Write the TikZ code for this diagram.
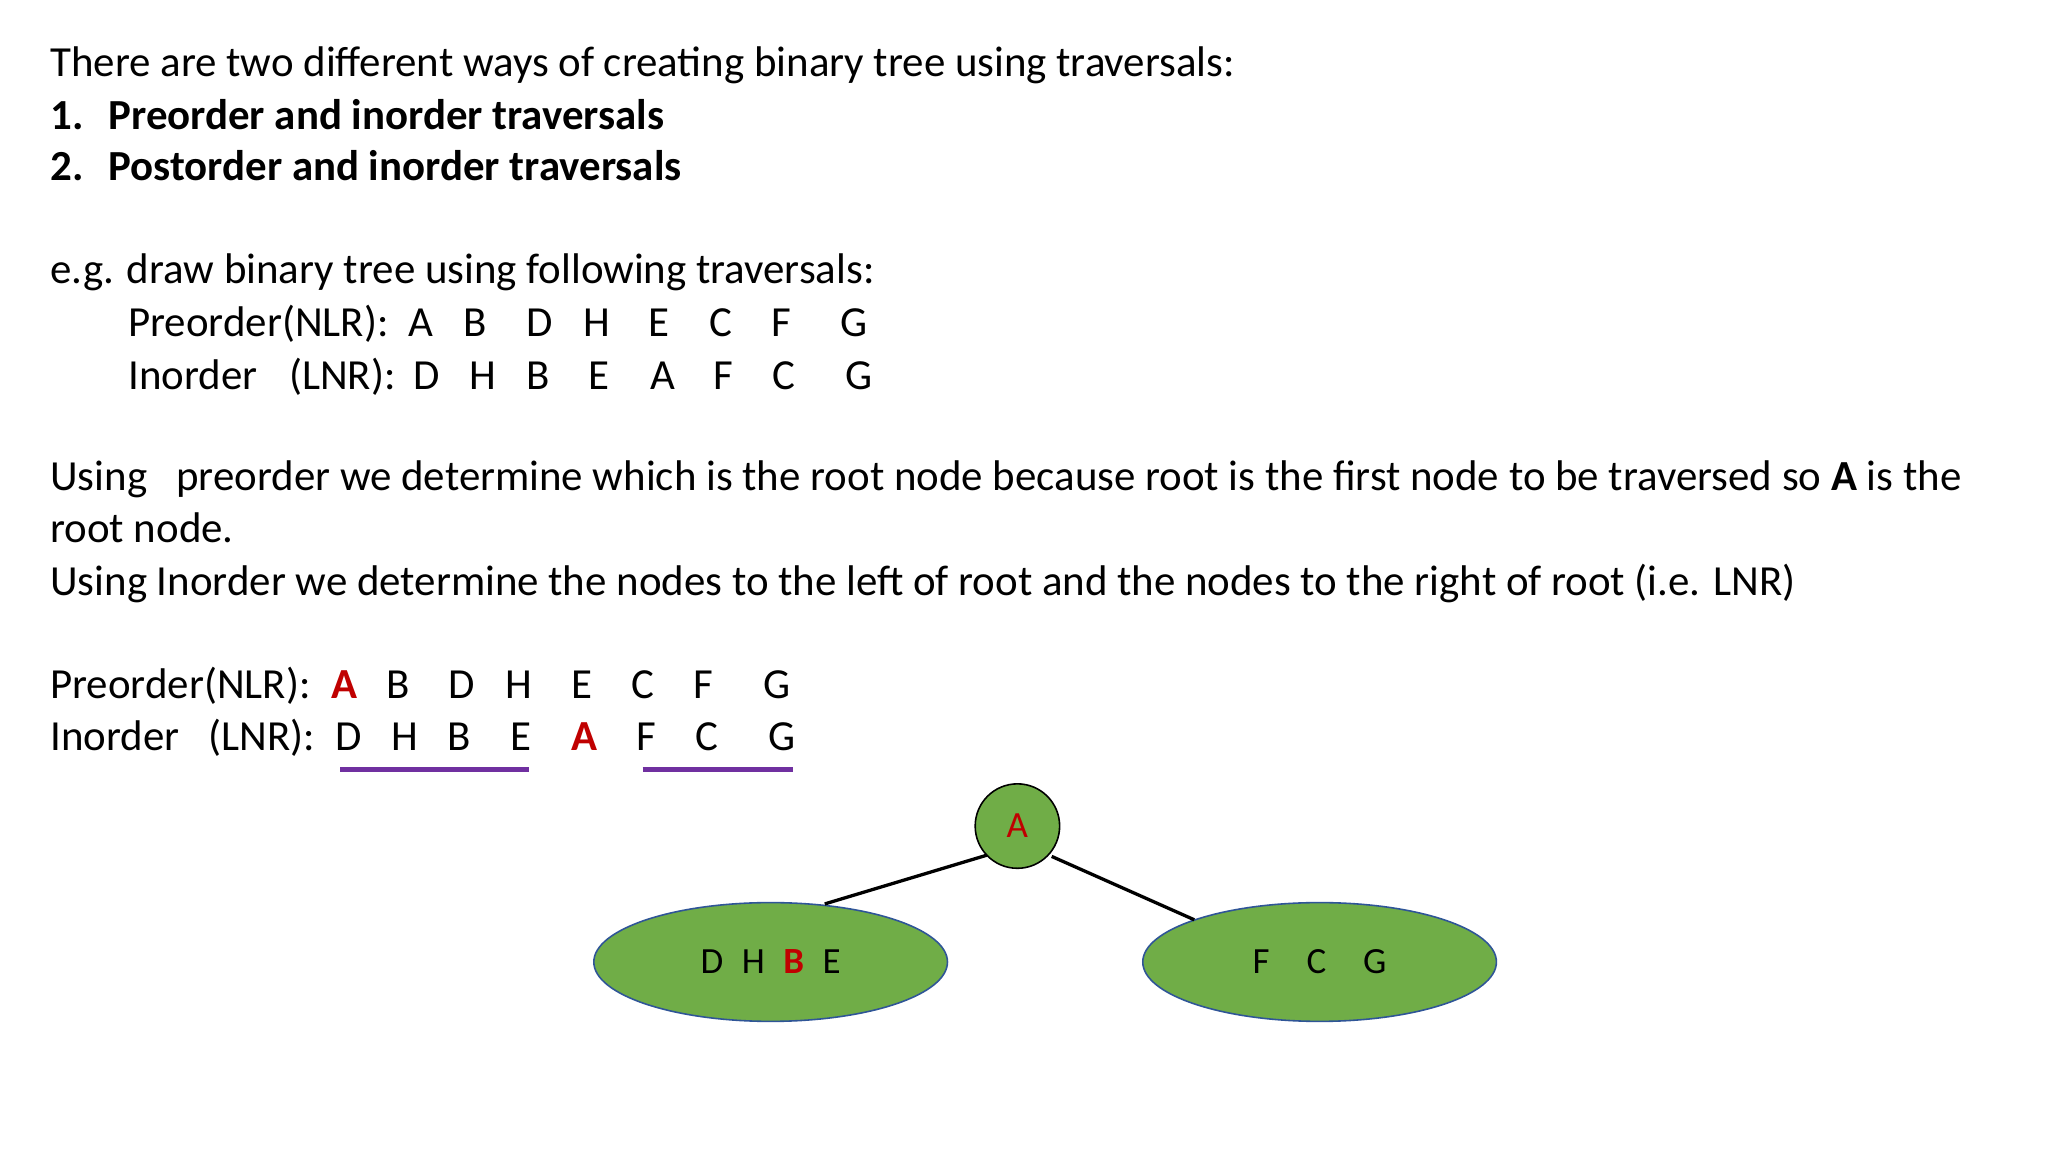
\documentclass[tikz,border=0pt]{standalone}
\usepackage{fontspec}
\setmainfont{Carlito}
\usetikzlibrary{shapes.geometric}
\definecolor{tgreen}{HTML}{70AD47}
\definecolor{tblue}{HTML}{2F5597}
\definecolor{tred}{HTML}{C00000}
\definecolor{tpurple}{HTML}{7030A0}
\begin{document}
\begin{tikzpicture}[x=1pt,y=-1pt,
  txt/.style={anchor=base west,inner sep=0pt,font=\fontsize{32.5}{38}\selectfont},
  btxt/.style={anchor=base west,inner sep=0pt,font=\fontsize{32.5}{38}\selectfont\bfseries},
  let/.style={anchor=base,inner sep=0pt,font=\fontsize{32.5}{38}\selectfont},
  redlet/.style={let,text=tred,font=\fontsize{32.5}{38}\selectfont\bfseries},
  uline/.style={tpurple,line width=3.5pt},
  edge/.style={line width=2.5pt},
  oval/.style={ellipse,draw=tblue,line width=1.2pt,fill=tgreen,minimum width=268pt,minimum height=90pt,inner sep=0pt,font=\fontsize{28}{32}\selectfont}]
\useasboundingbox[fill=white] (0,0) rectangle (1552,873);
\node[txt] (l1) at (38,58) {There are two different ways of creating binary tree using traversals:};
\node[btxt] (n1) at (38,98) {1.};
\node[btxt] (l2) at (82,98) {Preorder and inorder traversals};
\node[btxt] (n2) at (38,137) {2.};
\node[btxt] (l3) at (82,137) {Postorder and inorder traversals};
\node[txt] (l4) at (38,215) {e.g. draw binary tree using following traversals:};
\node[txt] (p1) at (97,255) {Preorder(NLR):};
\foreach \c/\x [count=\i] in {A/319,B/360,D/409,H/452,E/499,C/546,F/592,G/647}
  \node[let] (pa\i) at (\x,255) {\c};
\node[txt] (i1) at (97,295) {Inorder};
\node[txt] (i1b) at (219,295) {(LNR):};
\foreach \c/\x [count=\i] in {D/323,H/366,B/408,E/454,A/502,F/548,C/594,G/651}
  \node[let] (ia\i) at (\x,295) {\c};
\node[txt] (u1) at (38,372) {Using\ \ \ preorder we determine which is the root node because root is the first node to be traversed so \textbf{A} is the};
\node[txt] (u2) at (38,411) {root node.};
\node[txt] (u3) at (38,451) {Using Inorder we determine the nodes to the left of root and the nodes to the right of root (i.e. LNR)};
\node[txt] (p2) at (38,529) {Preorder(NLR):};
\node[redlet] (pb1) at (261,529) {A};
\foreach \c/\x [count=\i from 2] in {B/302,D/350,H/393,E/441,C/487,F/533,G/589}
  \node[let] (pb\i) at (\x,529) {\c};
\node[txt] (i2) at (38,569) {Inorder};
\node[txt] (i2b) at (158,569) {(LNR):};
\foreach \c/\x [count=\i] in {D/264,H/307,B/348,E/395}
  \node[let] (ib\i) at (\x,569) {\c};
\node[redlet] (ib5) at (443,569) {A};
\foreach \c/\x [count=\i from 6] in {F/490,C/536,G/593}
  \node[let] (ib\i) at (\x,569) {\c};
\draw[uline] (258,583) -- (401,583);
\draw[uline] (487,583) -- (601,583);
\node[circle,draw=black,line width=1.2pt,fill=tgreen,minimum size=64pt,inner sep=0pt,text=tred,font=\fontsize{28}{32}\selectfont] (A) at (771,626) {A};
\node[oval] (L) at (584,729) {D\enspace H\enspace \textcolor{tred}{\textbf{B}}\enspace E};
\node[oval] (R) at (1000,729) {F\quad C\quad G};
\coordinate (lt) at (625,685);
\coordinate (rt) at (905,697);
\coordinate (al) at (748,648);
\coordinate (ar) at (797,649);
\draw[edge] (al) -- (lt);
\draw[edge] (ar) -- (rt);
\end{tikzpicture}
\end{document}
